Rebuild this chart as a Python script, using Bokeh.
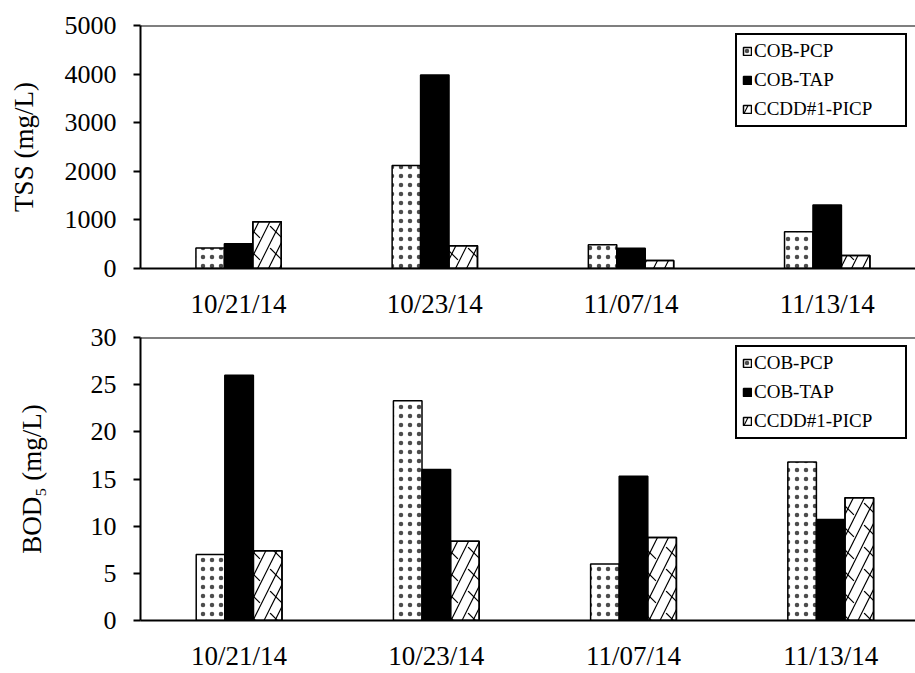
from bokeh.plotting import figure
from bokeh.models import Range1d, FixedTicker, Span, Legend, LegendItem
from bokeh.layouts import column
from bokeh.embed import file_html
from bokeh.resources import INLINE

dates = ["10/21/14", "10/23/14", "11/07/14", "11/13/14"]
series = ["COB-PCP", "COB-TAP", "CCDD#1-PICP"]

tss_pcp = [420, 2120, 490, 755]
tss_tap = [510, 3980, 415, 1305]
tss_picp = [960, 470, 165, 265]

bod_pcp = [7.0, 23.3, 6.0, 16.8]
bod_tap = [26.0, 16.0, 15.3, 10.7]
bod_picp = [7.4, 8.4, 8.8, 13.0]

FONT = "Liberation Serif"
BW = 0.145


def panel(vals, ymax, ystep, ylabel, height, btop, bbottom, bleft, xend, lab_standoff):
    p = figure(width=915, height=height, output_backend="svg", toolbar_location=None,
               x_range=Range1d(0, xend), y_range=Range1d(0, ymax),
               min_border_top=btop, min_border_bottom=bbottom, min_border_left=bleft,
               min_border_right=0)
    p.outline_line_color = None
    p.xgrid.visible = False
    p.ygrid.visible = False
    p.background_fill_color = "white"
    p.border_fill_color = "white"

    xs = [i + 0.5 for i in range(len(dates))]
    offs = [-BW, 0, BW]
    r0 = p.vbar(x=[x + offs[0] for x in xs], top=vals[0], width=BW, bottom=0,
                fill_color="white", line_color="black", line_width=1.5,
                hatch_pattern="dot", hatch_color="black", hatch_scale=9,
                hatch_alpha=0.7)
    r1 = p.vbar(x=[x + offs[1] for x in xs], top=vals[1], width=BW, bottom=0,
                fill_color="black", line_color="black", line_width=1.5)
    r2 = p.vbar(x=[x + offs[2] for x in xs], top=vals[2], width=BW, bottom=0,
                fill_color="white", line_color="black", line_width=1.5,
                hatch_pattern="right_diagonal_line", hatch_color="black", hatch_scale=22,
                hatch_weight=1.2)
    p.vbar(x=[x + offs[2] for x in xs], top=vals[2], width=BW, bottom=0,
           fill_alpha=0, line_color="black", line_width=1.5,
           hatch_pattern="left_diagonal_dash", hatch_color="black", hatch_scale=22,
           hatch_weight=1.2)
    rs = [r0, r1, r2]

    legend = Legend(items=[LegendItem(label=s, renderers=[r]) for s, r in zip(series, rs)],
                    location="top_right")
    legend.border_line_color = "black"
    legend.border_line_alpha = 1.0
    legend.border_line_width = 2
    legend.label_text_font = FONT
    legend.label_text_font_size = "19px"
    legend.label_text_color = "black"
    legend.glyph_width = 10
    legend.glyph_height = 10
    legend.label_standoff = 2
    legend.label_height = 20
    legend.spacing = 7
    legend.padding = 5
    legend.margin = 8
    legend.label_width = 146
    p.add_layout(legend)

    p.add_layout(Span(location=ymax, dimension="width", line_color="black", line_width=2))

    xa = p.xaxis[0]
    xa.ticker = FixedTicker(ticks=xs)
    xa.major_label_overrides = {x: d for x, d in zip(xs, dates)}
    xa.major_tick_line_color = None
    xa.minor_tick_line_color = None
    xa.axis_line_color = "black"
    xa.axis_line_width = 2
    xa.major_label_text_font = FONT
    xa.major_label_text_font_size = "27px"
    xa.major_label_text_color = "black"
    xa.major_label_standoff = 14

    ya = p.yaxis[0]
    ya.ticker = FixedTicker(ticks=[ystep * k for k in range(int(round(ymax / ystep)) + 1)])
    ya.minor_tick_line_color = None
    ya.major_tick_in = 0
    ya.major_tick_out = 7
    ya.major_tick_line_color = "black"
    ya.major_tick_line_width = 2
    ya.axis_line_color = "black"
    ya.axis_line_width = 2
    ya.major_label_text_font = FONT
    ya.major_label_text_font_size = "26px"
    ya.major_label_text_color = "black"
    ya.major_label_standoff = 17
    ya.axis_label = ylabel
    ya.axis_label_text_font = FONT
    ya.axis_label_text_font_size = "27px"
    ya.axis_label_text_font_style = "normal"
    ya.axis_label_text_color = "black"
    ya.axis_label_standoff = lab_standoff
    return p


p1 = panel([tss_pcp, tss_tap, tss_picp], 5000, 1000, "TSS (mg/L)", 321, 25, 51, 139, 3.95, 23)
p2 = panel([bod_pcp, bod_tap, bod_picp], 30, 5, "BOD\u2085 (mg/L)", 352, 16, 48, 140, 3.93, 41)

layout = column(p1, p2, spacing=0)
open("out.html", "w").write(file_html(layout, INLINE))
